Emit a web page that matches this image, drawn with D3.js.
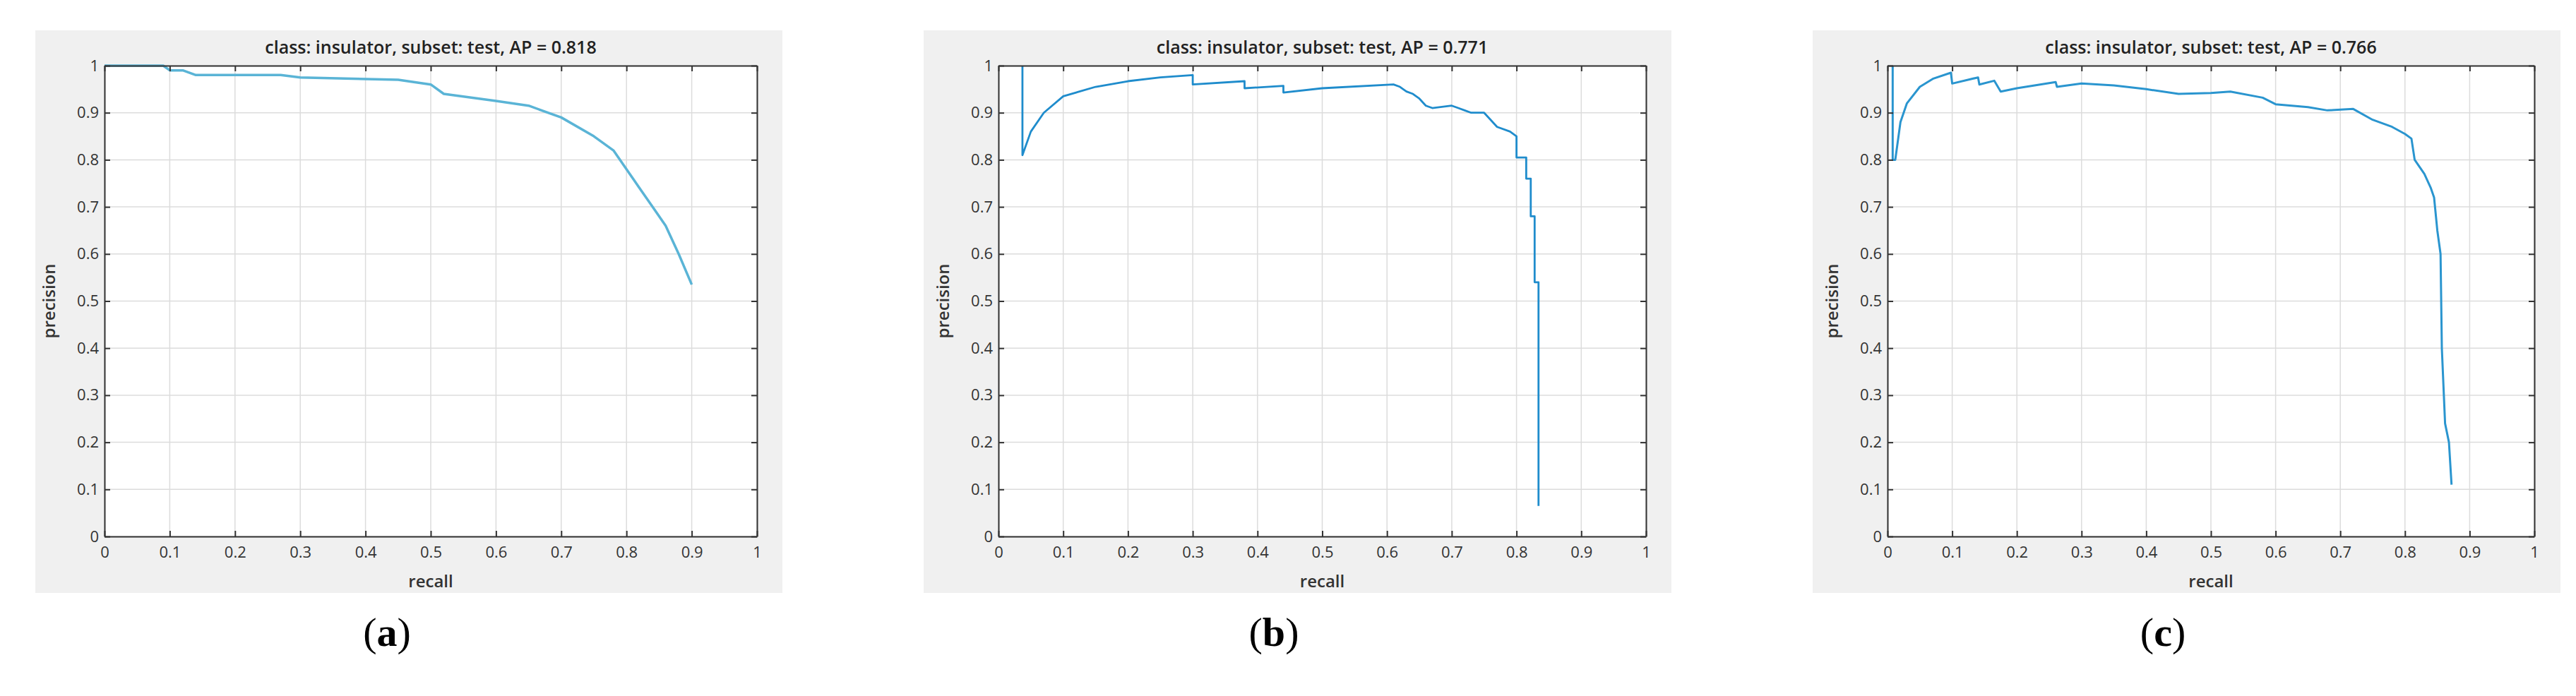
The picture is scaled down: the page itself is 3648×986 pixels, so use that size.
<!DOCTYPE html>
<html><head><meta charset="utf-8">
<script src="https://cdn.jsdelivr.net/npm/d3@7/dist/d3.min.js"></script>
<style>body{margin:0;background:#fff}</style></head>
<body><svg id="c" width="3648" height="986"></svg>
<script>
const ticks = [0,0.1,0.2,0.3,0.4,0.5,0.6,0.7,0.8,0.9,1];
const titles = ["class: insulator, subset: test, AP = 0.818","class: insulator, subset: test, AP = 0.771","class: insulator, subset: test, AP = 0.766"];
const labels = ["(a)","(b)","(c)"];
const recallA = [0,0.09,0.1,0.12,0.14,0.2,0.27,0.3,0.45,0.5,0.52,0.6,0.65,0.7,0.75,0.78,0.8,0.82,0.84,0.86,0.88,0.9];
const precA   = [1,1,0.99,0.99,0.98,0.98,0.98,0.975,0.97,0.96,0.94,0.925,0.915,0.89,0.85,0.82,0.78,0.74,0.70,0.66,0.60,0.535];
const recallB = [0.037,0.037,0.05,0.07,0.1,0.15,0.2,0.25,0.3,0.3,0.38,0.38,0.44,0.44,0.5,0.61,0.62,0.63,0.64,0.65,0.66,0.67,0.7,0.71,0.72,0.73,0.75,0.76,0.77,0.79,0.8,0.8,0.815,0.815,0.822,0.822,0.828,0.828,0.834,0.834];
const precB   = [1,0.81,0.86,0.9,0.935,0.955,0.967,0.975,0.98,0.96,0.967,0.952,0.957,0.943,0.952,0.96,0.955,0.945,0.94,0.93,0.915,0.91,0.915,0.91,0.905,0.9,0.9,0.885,0.87,0.86,0.85,0.805,0.805,0.76,0.76,0.68,0.68,0.54,0.54,0.065];
const recallC = [0.008,0.008,0.012,0.02,0.03,0.05,0.07,0.098,0.1,0.14,0.142,0.165,0.175,0.2,0.26,0.262,0.3,0.35,0.4,0.45,0.5,0.53,0.58,0.6,0.65,0.68,0.72,0.75,0.78,0.8,0.81,0.815,0.83,0.84,0.845,0.85,0.855,0.857,0.862,0.868,0.872];
const precC   = [1,0.8,0.8,0.88,0.92,0.955,0.972,0.985,0.962,0.975,0.96,0.968,0.945,0.952,0.965,0.955,0.962,0.958,0.95,0.94,0.942,0.945,0.932,0.918,0.912,0.905,0.908,0.885,0.87,0.855,0.845,0.8,0.77,0.74,0.72,0.65,0.6,0.4,0.24,0.2,0.11];

const panels = [
 {bg:[50,43,1108,840], ax:[148,93,1072,760], lab:548, r:recallA, p:precA, col:"#5ab4d6", w:3.5},
 {bg:[1308,43,2367,840], ax:[1414,93,2331,760], lab:1804, r:recallB, p:precB, col:"#1f8ccc", w:2.8, step:true},
 {bg:[2567,43,3626,840], ax:[2673,93,3589,760], lab:3063, r:recallC, p:precC, col:"#2a95cf", w:3},
];
const svg = d3.select("#c");
const F = "'Open Sans','DejaVu Sans',sans-serif";
panels.forEach((P,i)=>{
  const g = svg.append("g");
  g.append("rect").attr("x",P.bg[0]).attr("y",P.bg[1]).attr("width",P.bg[2]-P.bg[0]).attr("height",P.bg[3]-P.bg[1]).attr("fill","#f0f0f0");
  const x = d3.scaleLinear().domain([0,1]).range([P.ax[0],P.ax[2]]);
  const y = d3.scaleLinear().domain([0,1]).range([P.ax[3],P.ax[1]]);
  g.append("rect").attr("x",P.ax[0]).attr("y",P.ax[1]).attr("width",P.ax[2]-P.ax[0]).attr("height",P.ax[3]-P.ax[1]).attr("fill","#fff");
  // grid
  g.selectAll(null).data(ticks).join("line").attr("x1",d=>x(d)).attr("x2",d=>x(d)).attr("y1",P.ax[1]).attr("y2",P.ax[3]).attr("stroke","#dcdcdc").attr("stroke-width",1.5);
  g.selectAll(null).data(ticks).join("line").attr("y1",d=>y(d)).attr("y2",d=>y(d)).attr("x1",P.ax[0]).attr("x2",P.ax[2]).attr("stroke","#dcdcdc").attr("stroke-width",1.5);
  // curve
  const pts = P.r.map((r,j)=>[r,P.p[j]]);
  g.append("path").attr("d",d3.line().x(d=>x(d[0])).y(d=>y(d[1]))(pts)).attr("fill","none").attr("stroke",P.col).attr("stroke-width",P.w).attr("stroke-linejoin","round");
  // axes
  const ax = g.append("g").attr("transform",`translate(0,${P.ax[3]})`).call(d3.axisBottom(x).tickValues(ticks).tickFormat(d3.format("")).tickSizeInner(-8).tickSizeOuter(0).tickPadding(14));
  const ay = g.append("g").attr("transform",`translate(${P.ax[0]},0)`).call(d3.axisLeft(y).tickValues(ticks).tickFormat(d3.format("")).tickSizeInner(-8).tickSizeOuter(0).tickPadding(8));
  g.append("g").attr("transform",`translate(0,${P.ax[1]})`).call(d3.axisTop(x).tickValues(ticks).tickFormat("").tickSizeInner(-8).tickSizeOuter(0));
  g.append("g").attr("transform",`translate(${P.ax[2]},0)`).call(d3.axisRight(y).tickValues(ticks).tickFormat("").tickSizeInner(-8).tickSizeOuter(0));
  g.selectAll(".domain").attr("stroke","#333").attr("stroke-width",2);
  g.selectAll(".tick line").attr("stroke","#333").attr("stroke-width",2);
  g.selectAll(".tick text").attr("font-family",F).attr("font-size",22).attr("fill","#333");
  g.append("text").attr("x",(P.ax[0]+P.ax[2])/2).attr("y",76).attr("text-anchor","middle").attr("font-family",F).attr("font-weight",600).attr("font-size",25).attr("fill","#222").text(titles[i]);
  g.append("text").attr("x",(P.ax[0]+P.ax[2])/2).attr("y",832).attr("text-anchor","middle").attr("font-family",F).attr("font-weight",600).attr("font-size",24).attr("fill","#333").text("recall");
  g.append("text").attr("transform",`translate(${P.ax[0]-70},${(P.ax[1]+P.ax[3])/2}) rotate(-90)`).attr("text-anchor","middle").attr("font-family",F).attr("font-weight",600).attr("font-size",24).attr("fill","#333").text("precision");
  g.append("text").attr("x",P.lab).attr("y",915).attr("text-anchor","middle").attr("font-family","'Liberation Serif','DejaVu Serif',serif").attr("font-size",58).attr("fill","#000").html(labels[i].replace(/[abc]/,m=>`<tspan font-weight="bold">${m}</tspan>`));
});
</script></body></html>
